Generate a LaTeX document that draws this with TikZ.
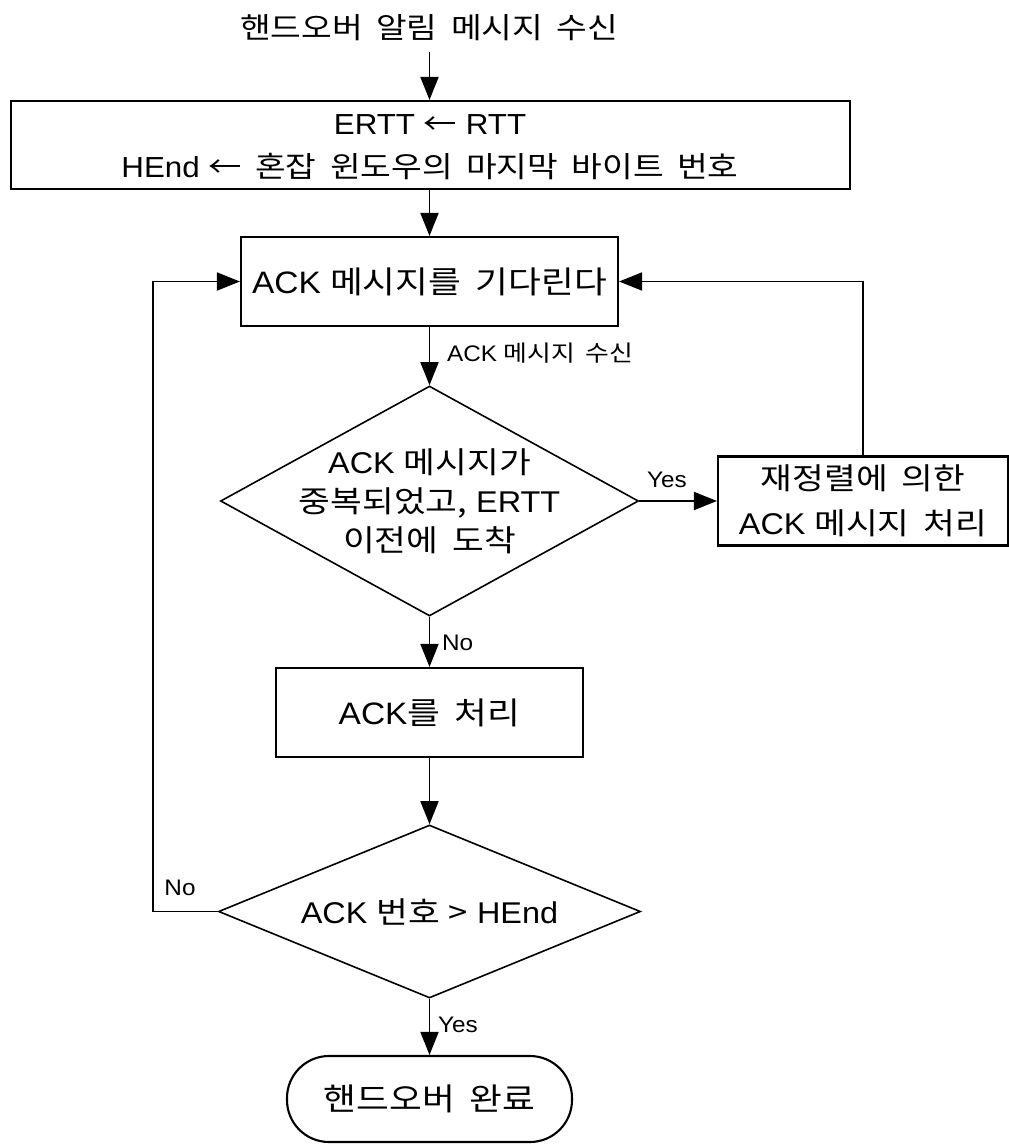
\documentclass[tikz,border=0pt]{standalone}
\usepackage{fontspec}
\setmainfont{Liberation Sans}[FakeStretch=1.08]
\newfontfamily\krfont{Noto Sans CJK KR}[FakeStretch=1.15,WordSpace=1.8]
\newcommand{\kor}[1]{{\krfont #1}}
\usetikzlibrary{arrows.meta,shapes.geometric}
\begin{document}
\begin{tikzpicture}[x=1pt,y=-1pt,line width=2.1pt,
  box/.style={draw,rectangle,inner sep=0pt,align=center},
  dia/.style={draw,diamond,inner sep=0pt,line width=1.6pt},
  txt/.style={inner sep=0pt,align=center,font=\fontsize{30}{39}\selectfont},
  flow/.style={line width=1.8pt,-{Triangle[length=23pt,width=18pt]}},
  lbl/.style={inner sep=0pt,font=\fontsize{22.5}{26}\selectfont}]
\useasboundingbox (0,0) rectangle (1009,1144);
% title
\node[txt,font=\fontsize{29}{34}\selectfont] (title) at (429,28) {\kor{핸드오버 알림 메시지 수신}};
\coordinate (tstart) at (430,52);
% box1
\node[box,minimum width=839pt,minimum height=88pt] (b1) at (430.5,145) {};
\node[txt,font=\fontsize{29}{43}\selectfont] (b1t) at (430,147)
  {ERTT \kor{←} RTT\\ HEnd \kor{← 혼잡 윈도우의 마지막 바이트 번호}};
% box2
\node[box,minimum width=377pt,minimum height=89pt,font=\fontsize{31}{40}\selectfont] (b2) at (429.5,281.5)
  {ACK \kor{메시지를 기다린다}};
% diamond 1
\node[dia,minimum width=418pt,minimum height=230pt] (d1) at (429.5,501) {};
\node[txt] (d1t) at (429.5,501) {ACK \kor{메시지가}\\ \kor{중복되었고,} ERTT\\ \kor{이전에 도착}};
% box3
\node[box,minimum width=290pt,minimum height=89pt,font=\fontsize{30}{45}\selectfont] (b3) at (863,501)
  {\kor{재정렬에 의한}\\ ACK \kor{메시지 처리}};
% box4
\node[box,minimum width=307pt,minimum height=89pt,font=\fontsize{31}{40}\selectfont] (b4) at (429.5,712.5)
  {ACK\kor{를 처리}};
% diamond 2
\node[dia,minimum width=422pt,minimum height=173pt] (d2) at (429.5,911.5) {};
\node[txt] (d2t) at (429.5,911.5) {ACK \kor{번호} \kor{>} HEnd};
% terminal
\node[box,rounded corners=42pt,minimum width=285pt,minimum height=86pt,
  font=\fontsize{31}{34}\selectfont] (end) at (429.5,1099) {\kor{핸드오버 완료}};
% connectors
\draw[flow] (tstart -| b2.north) -- (b1.north -| b2.north);
\draw[flow] (b1.south -| b2.north) -- (b2.north);
\draw[flow] (b2.south) -- (d1.north);
\draw[flow] (d1.east) -- (b3.west);
\draw[flow] (b3.north) |- (b2.east);
\draw[flow] (d1.south) -- (b4.north);
\draw[flow] (b4.south) -- (d2.north);
\coordinate (lx) at (153,911.5);
\draw[flow] (d2.west) -- (lx) |- (b2.west);
\draw[flow] (d2.south) -- (end.north);
% labels
\node[lbl,anchor=west] (l1) at (446,353) {ACK \kor{메시지 수신}};
\node[lbl] (l2) at (667,480) {Yes};
\node[lbl,anchor=west] (l3) at (441,643) {No};
\node[lbl] (l4) at (180,888) {No};
\node[lbl,anchor=west] (l5) at (437,1025) {Yes};
\end{tikzpicture}
\end{document}
